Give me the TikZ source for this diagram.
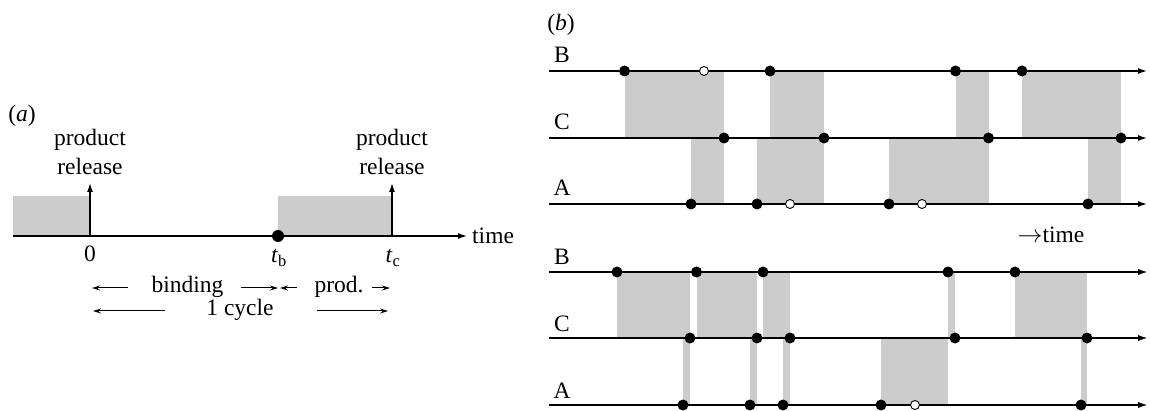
\documentclass[tikz,border=0pt]{standalone}
\usepackage{fontspec}
\setmainfont{Liberation Serif}
\usetikzlibrary{arrows.meta}
\tikzset{
  shadebox/.style={fill=black!20},
  dot/.style={circle, fill=black, inner sep=0pt, minimum size=11pt},
  odot/.style={circle, draw=black, fill=white, line width=0.9pt, inner sep=0pt, minimum size=9pt},
  axis/.style={line width=1.3pt, -{Latex[length=9pt,width=6pt]}},
  thinarrow/.style={line width=1pt, -{Stealth[length=8pt,width=5pt]}},
  lbl/.style={font=\fontsize{23.5}{28}\selectfont, inner sep=0pt},
}
\begin{document}
\begin{tikzpicture}[x=1pt,y=-1pt]
\useasboundingbox (0,0) rectangle (1150,411);

% ---------------- panel (a) ----------------
\node[lbl] (alabel) at (22,116) {(\textit{a})};
\fill[shadebox] (13,196) rectangle (90,236);
\fill[shadebox] (278,196) rectangle (392,236);
\coordinate (a0) at (13,236);
\coordinate (aend) at (467,236);
\draw[axis] (a0) -- (aend);
\coordinate (zero) at (90,236);
\coordinate (zerotop) at (90,183);
\coordinate (tcx) at (392,236);
\coordinate (tctop) at (392,183);
\draw[axis] (zero) -- (zerotop);
\draw[axis] (tcx) -- (tctop);
\node[dot, minimum size=12pt] (tb) at (278,236) {};
\node[lbl, anchor=west] (time) at (472,236) {time};
\node[lbl, anchor=base] (p1) at (90,146) {product};
\node[lbl, anchor=base] (r1) at (90,175) {release};
\node[lbl, anchor=base] (p2) at (392,146) {product};
\node[lbl, anchor=base] (r2) at (392,175) {release};
\node[lbl, anchor=base] (l0) at (90,262) {0};
\node[lbl, anchor=base] (ltb) at (279,263) {\textit{t}\textsubscript{b}};
\node[lbl, anchor=base] (ltc) at (393,263) {\textit{t}\textsubscript{c}};

\node[lbl, anchor=base] (bind) at (187.5,293) {binding};
\coordinate (b1s) at (128,288); \coordinate (b1e) at (92,288);
\coordinate (b2s) at (241,288); \coordinate (b2e) at (278,288);
\draw[thinarrow] (b1s) -- (b1e);
\draw[thinarrow] (b2s) -- (b2e);
\node[lbl, anchor=base] (prod) at (339,293) {prod.};
\coordinate (p1s) at (297,288); \coordinate (p1e) at (280,288);
\coordinate (p2s) at (372,288); \coordinate (p2e) at (390,288);
\draw[thinarrow] (p1s) -- (p1e);
\draw[thinarrow] (p2s) -- (p2e);
\node[lbl, anchor=base] (cyc) at (240,316) {1 cycle};
\coordinate (c1s) at (165,311); \coordinate (c1e) at (93,311);
\coordinate (c2s) at (317,311); \coordinate (c2e) at (388,311);
\draw[thinarrow] (c1s) -- (c1e);
\draw[thinarrow] (c2s) -- (c2e);

% ---------------- panel (b) ----------------
\node[lbl] (blabel) at (561,25) {(\textit{b})};
\node[lbl, anchor=base] (timeb) at (1051,243) {$\rightarrow$time};

% top group: B 71, C 138, A 204
\fill[shadebox] (624.5,71) rectangle (724,138);
\fill[shadebox] (770,71) rectangle (824,138);
\fill[shadebox] (955.5,71) rectangle (988.5,138);
\fill[shadebox] (1022,71) rectangle (1121,138);
\fill[shadebox] (691,138) rectangle (724,204);
\fill[shadebox] (757,138) rectangle (824,204);
\fill[shadebox] (889,138) rectangle (988.5,204);
\fill[shadebox] (1088,138) rectangle (1121,204);

\foreach \n/\y in {tB/71, tC/138, tA/204, uB/272, uC/338, uA/405}{
  \coordinate (\n s) at (549,\y);
  \coordinate (\n e) at (1147,\y);
  \draw[axis] (\n s) -- (\n e);
}
\node[lbl, anchor=base] (tBl) at (562,63) {B};
\node[lbl, anchor=base] (tCl) at (562,130) {C};
\node[lbl, anchor=base] (tAl) at (562,196) {A};

\foreach \x [count=\i] in {624.5,770,955.5,1022} \node[dot] (tBd\i) at (\x,71) {};
\node[odot] (tBo1) at (704,71) {};
\foreach \x [count=\i] in {724,824,988.5,1121} \node[dot] (tCd\i) at (\x,138) {};
\foreach \x [count=\i] in {691,757,889,1088} \node[dot] (tAd\i) at (\x,204) {};
\node[odot] (tAo1) at (790,204) {};
\node[odot] (tAo2) at (922,204) {};

% bottom group: B 272, C 338, A 405
\fill[shadebox] (617,272) rectangle (690,338);
\fill[shadebox] (696.5,272) rectangle (757,338);
\fill[shadebox] (763,272) rectangle (790,338);
\fill[shadebox] (948,272) rectangle (955,338);
\fill[shadebox] (1015,272) rectangle (1087,338);
\fill[shadebox] (683,338) rectangle (690,405);
\fill[shadebox] (750,338) rectangle (757,405);
\fill[shadebox] (783,338) rectangle (790,405);
\fill[shadebox] (881,338) rectangle (948,405);
\fill[shadebox] (1081,338) rectangle (1087,405);
\foreach \n/\y in {uB/272, uC/338, uA/405}{
  \draw[axis] (\n s) -- (\n e);
}
\node[lbl, anchor=base] (uBl) at (562,265) {B};
\node[lbl, anchor=base] (uCl) at (562,331) {C};
\node[lbl, anchor=base] (uAl) at (562,398) {A};

\foreach \x [count=\i] in {617,696.5,763,948,1015} \node[dot] (uBd\i) at (\x,272) {};
\foreach \x [count=\i] in {690,757,790,955,1087} \node[dot] (uCd\i) at (\x,338) {};
\foreach \x [count=\i] in {683,750,783,881,1081} \node[dot] (uAd\i) at (\x,405) {};
\node[odot] (uAo1) at (915,405) {};
\end{tikzpicture}
\end{document}
